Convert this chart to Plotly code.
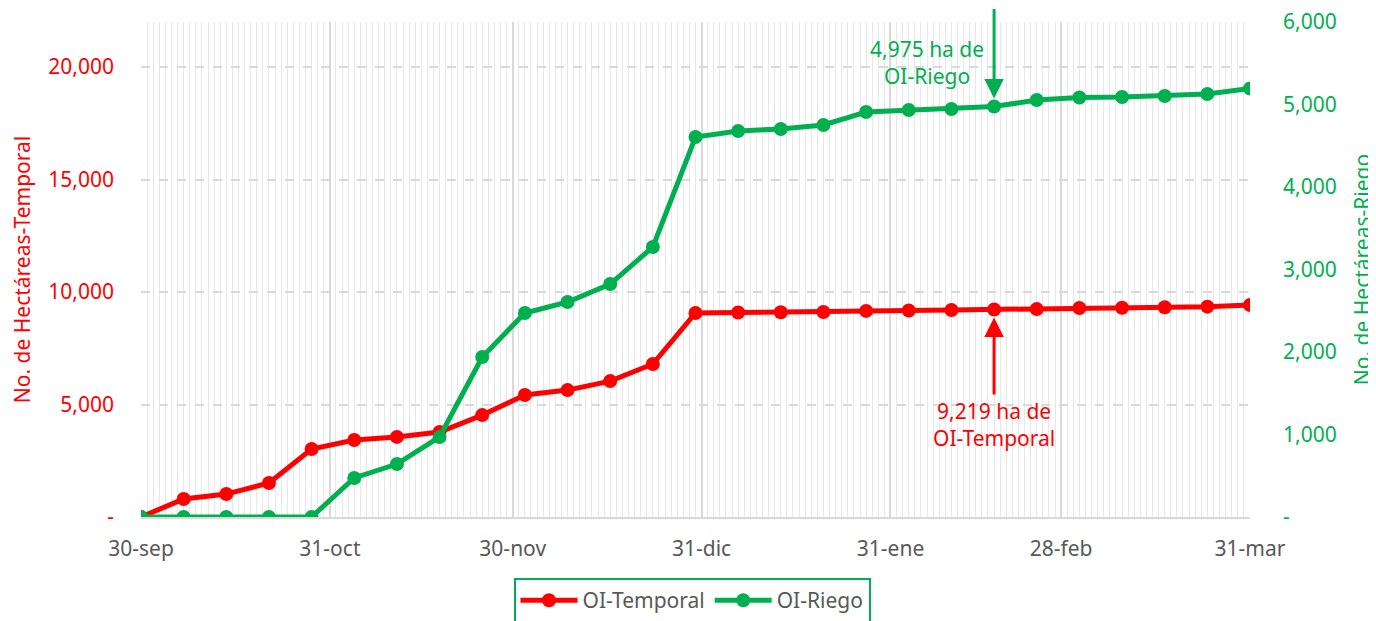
import plotly.graph_objects as go

dates = ["2022-09-30", "2022-10-07", "2022-10-14", "2022-10-21", "2022-10-28",
         "2022-11-04", "2022-11-11", "2022-11-18", "2022-11-25", "2022-12-02",
         "2022-12-09", "2022-12-16", "2022-12-23", "2022-12-30", "2023-01-06",
         "2023-01-13", "2023-01-20", "2023-01-27", "2023-02-03", "2023-02-10",
         "2023-02-17", "2023-02-24", "2023-03-03", "2023-03-10", "2023-03-17",
         "2023-03-24", "2023-03-31"]

temporal = [0, 800, 1020, 1510, 3020, 3420, 3560, 3780, 4530, 5420, 5640, 6040,
            6800, 9070, 9090, 9100, 9110, 9160, 9180, 9200, 9219, 9240, 9290,
            9300, 9320, 9350, 9420]

riego = [0, 0, 0, 0, 0, 473, 642, 970, 1940, 2473, 2606, 2824, 3273, 4606, 4679,
         4703, 4752, 4909, 4933, 4945, 4975, 5055, 5085, 5090, 5103, 5127, 5194]

x_tickvals = ["2022-09-30", "2022-10-31", "2022-11-30", "2022-12-31",
              "2023-01-31", "2023-02-28", "2023-03-31"]
x_ticktext = ["30-sep", "31-oct", "30-nov", "31-dic", "31-ene", "28-feb", "31-mar"]

y1_tickvals = [0, 5000, 10000, 15000, 20000]
y1_ticktext = ["-", "5,000", "10,000", "15,000", "20,000"]
y2_tickvals = [0, 1000, 2000, 3000, 4000, 5000, 6000]
y2_ticktext = ["-", "1,000", "2,000", "3,000", "4,000", "5,000", "6,000"]

RED = "#FF0000"
GREEN = "#00B050"
FONT = "Noto Sans"
FS = 21

fig = go.Figure()
fig.add_trace(go.Scatter(x=dates, y=temporal, name="OI-Temporal", mode="lines+markers",
                         line=dict(color=RED, width=5), marker=dict(color=RED, size=14),
                         yaxis="y"))
fig.add_trace(go.Scatter(x=dates, y=riego, name="OI-Riego", mode="lines+markers",
                         line=dict(color=GREEN, width=5), marker=dict(color=GREEN, size=14),
                         yaxis="y2"))

# arrows
fig.add_annotation(x=dates[20], y=riego[20], yref="y2", xref="x", text=" ",
                   font=dict(size=1), borderpad=0,
                   showarrow=True, ax=0, ay=-110, axref="pixel", ayref="pixel",
                   arrowcolor=GREEN, arrowwidth=3, arrowhead=2, arrowsize=1.3, standoff=8)
fig.add_annotation(x=dates[20], y=temporal[20], yref="y", xref="x", text=" ",
                   font=dict(size=1), borderpad=0,
                   showarrow=True, ax=0, ay=86, axref="pixel", ayref="pixel",
                   arrowcolor=RED, arrowwidth=3, arrowhead=2, arrowsize=1.3, standoff=8)
# labels
fig.add_annotation(x="2023-02-06", y=5515, xref="x", yref="y2",
                   text="4,975 ha de<br>OI-Riego", showarrow=False,
                   font=dict(family=FONT, size=FS, color=GREEN))
fig.add_annotation(x="2023-02-17", y=4090, xref="x", yref="y",
                   text="9,219 ha de<br>OI-Temporal", showarrow=False,
                   font=dict(family=FONT, size=FS, color=RED))

fig.update_layout(
    width=1368, height=613,
    margin=dict(l=133, r=126, t=14, b=104),
    paper_bgcolor="white", plot_bgcolor="white",
    font=dict(family=FONT, size=FS, color="#595959"),
    showlegend=True,
    legend=dict(orientation="h", xref="container", yref="container",
                x=0.5, xanchor="center", y=0.0701, yanchor="top",
                bordercolor=GREEN, borderwidth=2, font=dict(size=FS, color="#595959"),
                itemwidth=57),
    xaxis=dict(
        type="date", range=["2022-09-30", "2023-03-31"], automargin=False,
        tickmode="array", tickvals=x_tickvals, ticktext=x_ticktext,
        showgrid=True, gridcolor="#d9d9d9", gridwidth=2,
        showline=True, linecolor="#d9d9d9", linewidth=2,
        ticks="", ticklabelstandoff=12, ticklabeloverflow="allow",
        tickfont=dict(size=FS, color="#595959"),
        minor=dict(tickmode="linear", tick0="2022-09-30", dtick=86400000,
                   showgrid=True, gridcolor="#e8e8e8", gridwidth=1, ticks=""),
        zeroline=False,
    ),
    yaxis=dict(
        range=[0, 22000], tickmode="array", tickvals=y1_tickvals, ticktext=y1_ticktext,
        showgrid=True, gridcolor="#d9d9d9", gridwidth=2, griddash="dash",
        zeroline=False, ticks="", ticklabelstandoff=26, automargin=False,
        ticklabeloverflow="allow",
        tickfont=dict(size=FS, color=RED),
        title=dict(text="No. de Hectáreas-Temporal", font=dict(size=FS, color=RED), standoff=16),
    ),
    yaxis2=dict(
        range=[0, 6000], overlaying="y", side="right", automargin=False,
        tickmode="array", tickvals=y2_tickvals, ticktext=y2_ticktext,
        showgrid=False, zeroline=False, ticks="", ticklabelstandoff=32,
        ticklabeloverflow="allow",
        tickfont=dict(size=FS, color=GREEN),
        title=dict(text="No. de Hectáreas-Riego", font=dict(size=FS, color=GREEN), standoff=19),
    ),
)

fig.write_html("out.html")
